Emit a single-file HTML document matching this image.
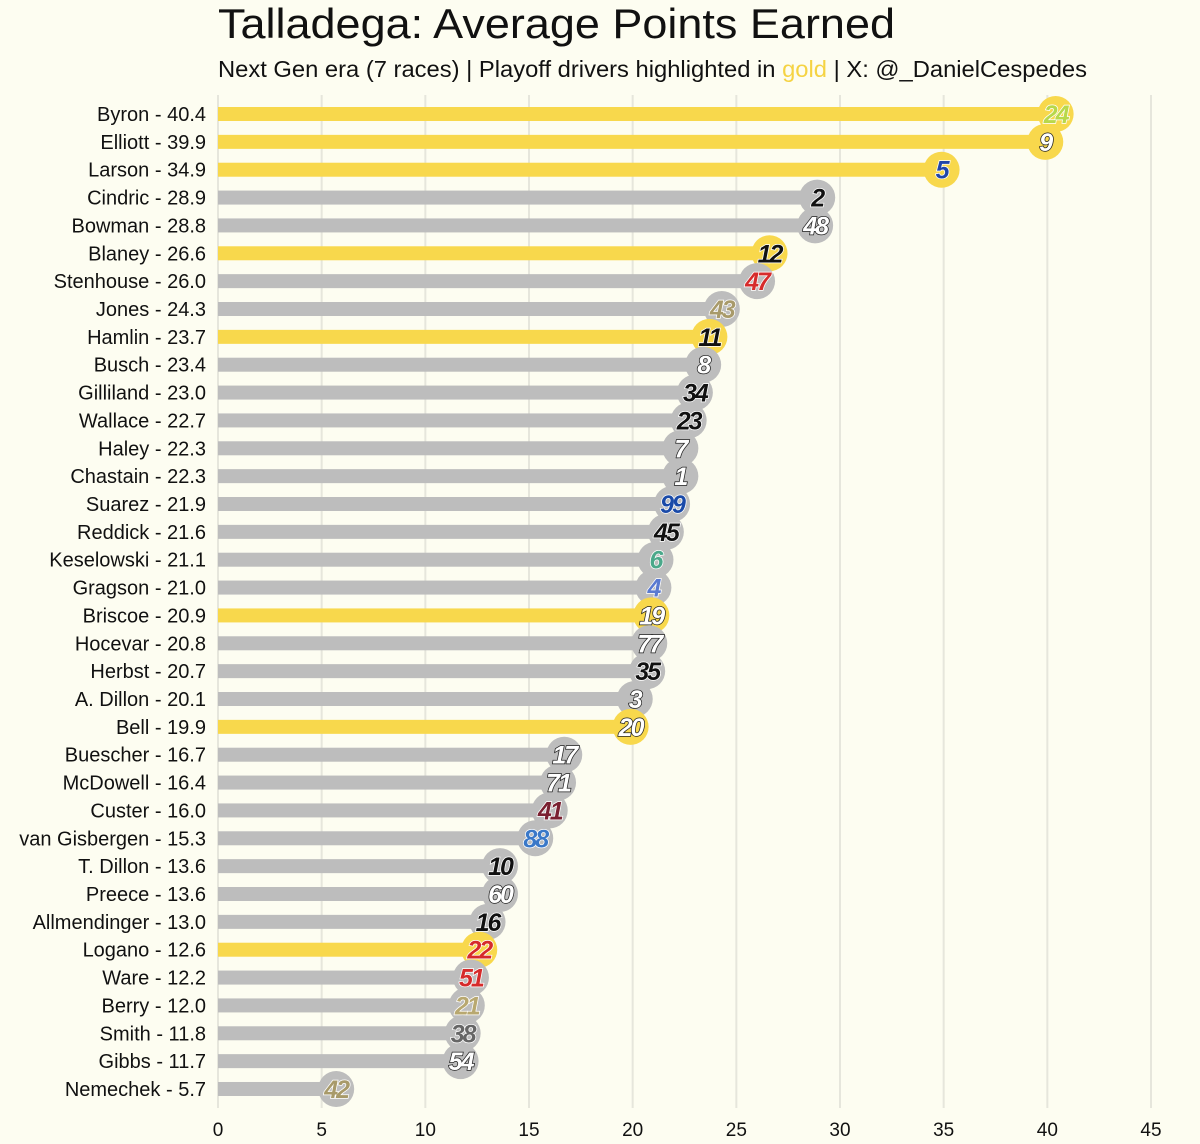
<!DOCTYPE html>
<html><head><meta charset="utf-8"><style>
body{margin:0;background:#fdfdf1;}
svg{display:block;font-family:"Liberation Sans",sans-serif;}
</style></head><body>
<svg id="chart" width="1200" height="1144">
<rect width="1200" height="1144" fill="#fdfdf1"/>
<text x="218" y="38" font-size="42" fill="#111" textLength="677" lengthAdjust="spacingAndGlyphs">Talladega: Average Points Earned</text>
<text x="218" y="77" font-size="23" fill="#111" textLength="869" lengthAdjust="spacingAndGlyphs">Next Gen era (7 races) | Playoff drivers highlighted in <tspan fill="#f5d343">gold</tspan> | X: @_DanielCespedes</text>
<g id="grid"></g><g id="bars"></g><g id="labels"></g><g id="xaxis"></g>
</svg>
<script>
const drivers=["Byron","Elliott","Larson","Cindric","Bowman","Blaney","Stenhouse","Jones","Hamlin","Busch","Gilliland","Wallace","Haley","Chastain","Suarez","Reddick","Keselowski","Gragson","Briscoe","Hocevar","Herbst","A. Dillon","Bell","Buescher","McDowell","Custer","van Gisbergen","T. Dillon","Preece","Allmendinger","Logano","Ware","Berry","Smith","Gibbs","Nemechek"];
const values=[40.4,39.9,34.9,28.9,28.8,26.6,26.0,24.3,23.7,23.4,23.0,22.7,22.3,22.3,21.9,21.6,21.1,21.0,20.9,20.8,20.7,20.1,19.9,16.7,16.4,16.0,15.3,13.6,13.6,13.0,12.6,12.2,12.0,11.8,11.7,5.7];
const carNumbers=["24","9","5","2","48","12","47","43","11","8","34","23","7","1","99","45","6","4","19","77","35","3","20","17","71","41","88","10","60","16","22","51","21","38","54","42"];
const playoff=[1,1,1,0,0,1,0,0,1,0,0,0,0,0,0,0,0,0,1,0,0,0,1,0,0,0,0,0,0,0,1,0,0,0,0,0];
const numColors=["#b8d84a","#fff","#2146a8","#111","#fff","#111","#d62b2b","#a89a6a","#111","#fff","#111","#111","#fff","#fff","#1a4aa8","#111","#4aa88a","#5a7ad0","#fff","#fff","#111","#fff","#fff","#fff","#fff","#7a2030","#3a78c8","#111","#fff","#111","#d62b2b","#d62b2b","#b8a870","#666","#fff","#a89a6a"];
const xTicks=[0,5,10,15,20,25,30,35,40,45];
const NS="http://www.w3.org/2000/svg";
const x=v=>218+v*(933/45);
const y=i=>114+i*27.857;
function mk(t,a,p){const e=document.createElementNS(NS,t);for(const k in a)e.setAttribute(k,a[k]);p.appendChild(e);return e;}
const grid=document.getElementById('grid'),bars=document.getElementById('bars'),labels=document.getElementById('labels'),xa=document.getElementById('xaxis');
xTicks.forEach(t=>{
 const l=mk('line',{x1:x(t),x2:x(t),y1:95,y2:1108,stroke:'#e6e6dc','stroke-width':2},grid);
 
 
 const tx=mk('text',{x:x(t),y:1136,'font-size':19,'text-anchor':'middle',fill:'#111'},xa);
 tx.textContent=t;
 
 
});
drivers.forEach((d,i)=>{
 const col=playoff[i]?'#f8d84c':'#bdbdbd';
 const b=mk('rect',{x:x(0),y:y(i)-7,width:x(values[i])-x(0),height:14,fill:col},bars);
 
 
 const c=mk('circle',{cx:x(values[i]),cy:y(i),r:18,fill:col},bars);
 
 
 const n=mk('text',{x:x(values[i]),y:y(i)+9,'font-size':25,'font-weight':'bold','font-style':'italic','text-anchor':'middle',fill:numColors[i],stroke:numColors[i]==='#fff'?'#222':'#fff','stroke-width':1.5,'paint-order':'stroke','letter-spacing':'-2'},bars);
 n.textContent=carNumbers[i];
 
 
 const t=mk('text',{x:206,y:y(i)+7,'font-size':20,'text-anchor':'end',fill:'#111'},labels);
 t.textContent=d+' - '+values[i].toFixed(1);
 
 
});
</script>
</body></html>
